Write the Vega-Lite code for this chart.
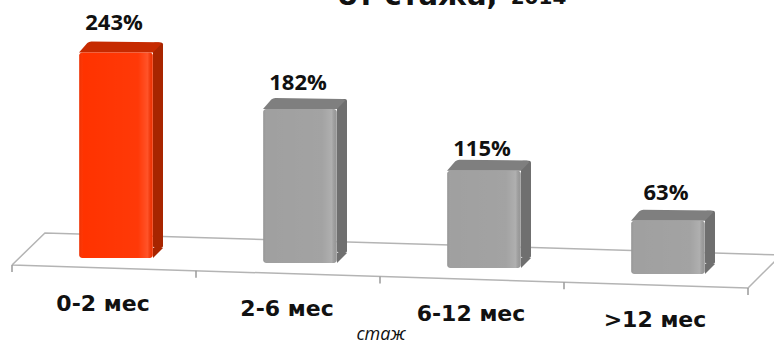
{
  "$schema": "https://vega.github.io/schema/vega-lite/v6.json",
  "width": 774,
  "height": 344,
  "padding": 0,
  "autosize": {"type": "none"},
  "background": "white",
  "view": {"stroke": null},
  "params": [
    {"name": "tilt", "expr": "{'0-2 мес': 0, '2-6 мес': 5, '6-12 мес': 10, '>12 мес': 16}"},
    {"name": "labelDrop", "expr": "{'0-2 мес': 1, '2-6 мес': 4, '6-12 мес': 8, '>12 мес': 2}"}
  ],
  "datasets": {
    "bars": [
      {"stage": "0-2 мес", "share": 2.43},
      {"stage": "2-6 мес", "share": 1.82},
      {"stage": "6-12 мес", "share": 1.15},
      {"stage": ">12 мес", "share": 0.63}
    ],
    "floor": [
      {"u": 0, "level": -0.083},
      {"u": 0.179, "level": 0.296},
      {"u": 4.18, "level": 0.036},
      {"u": 4, "level": -0.355},
      {"u": 0, "level": -0.083}
    ],
    "ticks": [
      {"u": 0, "top": -0.083, "end": -0.165},
      {"u": 1, "top": -0.151, "end": -0.233},
      {"u": 2, "top": -0.219, "end": -0.301},
      {"u": 3, "top": -0.287, "end": -0.369},
      {"u": 4, "top": -0.355, "end": -0.437}
    ]
  },
  "resolve": {"scale": {"x": "independent"}},
  "encoding": {
    "y": {
      "field": "share",
      "type": "quantitative",
      "axis": null,
      "scale": {"domain": [0, 3.05], "range": [258, 0], "nice": false, "zero": false}
    }
  },
  "layer": [
    {
      "data": {"name": "floor"},
      "mark": {"type": "line", "stroke": "#b4b4b4", "strokeWidth": 1.5, "clip": false},
      "encoding": {
        "x": {"field": "u", "type": "quantitative", "axis": null, "scale": {"domain": [0, 4], "range": [12, 748], "nice": false, "zero": false}},
        "y": {"field": "level", "type": "quantitative"},
        "order": {"value": null}
      }
    },
    {
      "data": {"name": "ticks"},
      "mark": {"type": "rule", "stroke": "#9a9a9a", "strokeWidth": 1.5},
      "encoding": {
        "x": {"field": "u", "type": "quantitative", "axis": null, "scale": {"domain": [0, 4], "range": [12, 748], "nice": false, "zero": false}},
        "y": {"field": "top", "type": "quantitative"},
        "y2": {"field": "end"}
      }
    },
    {
      "data": {"name": "bars"},
      "resolve": {"scale": {"fill": "independent", "color": "independent"}},
      "encoding": {
        "x": {
          "field": "stage",
          "type": "nominal",
          "sort": null,
          "axis": null,
          "scale": {"type": "band", "range": [24, 760], "paddingInner": 0.6, "paddingOuter": 0.3}
        }
      },
      "layer": [
        {
          "mark": {"type": "bar", "width": 10, "xOffset": 42, "cornerRadius": 2, "yOffset": {"expr": "tilt[datum.stage] - 10"}, "y2Offset": {"expr": "tilt[datum.stage] - 10"}},
          "encoding": {
            "y2": {"datum": 0},
            "fill": {"field": "stage", "type": "nominal", "legend": null, "sort": null, "scale": {"range": ["#a82500", "#6f6f6f", "#6f6f6f", "#6f6f6f"]}}
          }
        },
        {
          "mark": {"type": "point", "filled": true, "opacity": 1, "size": 6724, "shape": "M0.902,0L1.146,-0.244L0.902,-0.244Z", "yOffset": {"expr": "tilt[datum.stage]"}},
          "encoding": {
            "y": {"datum": 0},
            "fill": {"field": "stage", "type": "nominal", "legend": null, "sort": null, "scale": {"range": ["#a82500", "#6f6f6f", "#6f6f6f", "#6f6f6f"]}}
          }
        },
        {
          "mark": {"type": "point", "filled": true, "opacity": 1, "size": 6724, "shape": "M-0.902,0L-0.70,-0.23Q-0.659,-0.268 -0.6,-0.268L1.04,-0.248Q1.098,-0.244 1.098,-0.2L0.902,0Z", "yOffset": {"expr": "tilt[datum.stage]"}},
          "encoding": {
            "fill": {"field": "stage", "type": "nominal", "legend": null, "sort": null, "scale": {"range": ["#c62a00", "#7f7f7f", "#7f7f7f", "#7f7f7f"]}}
          }
        },
        {
          "mark": {"type": "bar", "cornerRadius": 3, "yOffset": {"expr": "tilt[datum.stage]"}, "y2Offset": {"expr": "tilt[datum.stage]"}},
          "encoding": {
            "y2": {"datum": 0},
            "fill": {"field": "stage", "type": "nominal", "legend": null, "sort": null, "scale": {"range": ["#ff3300", "#a0a0a0", "#a0a0a0", "#a0a0a0"]}}
          }
        },
        {
          "mark": {
            "type": "bar",
            "cornerRadius": 3,
            "yOffset": {"expr": "tilt[datum.stage]"},
            "y2Offset": {"expr": "tilt[datum.stage]"},
            "fill": {
              "gradient": "linear", "x1": 0, "x2": 1, "y1": 0, "y2": 0,
              "stops": [
                {"offset": 0, "color": "rgba(0,0,0,0.08)"},
                {"offset": 0.06, "color": "rgba(255,255,255,0)"},
                {"offset": 0.8, "color": "rgba(255,255,255,0.03)"},
                {"offset": 0.93, "color": "rgba(255,255,255,0.16)"},
                {"offset": 1, "color": "rgba(0,0,0,0.05)"}
              ]
            }
          },
          "encoding": {"y2": {"datum": 0}}
        },
        {
          "mark": {"type": "text", "font": "Open Sans", "fontWeight": "bold", "fontSize": 22, "color": "#111111", "dy": -30, "dx": -2, "yOffset": {"expr": "tilt[datum.stage] + labelDrop[datum.stage]"}},
          "encoding": {"text": {"field": "share", "type": "quantitative", "format": ".0%"}}
        },
        {
          "mark": {"type": "text", "font": "DejaVu Sans", "fontWeight": "bold", "fontSize": 22, "color": "#111111", "dy": 46, "dx": -13, "yOffset": {"expr": "tilt[datum.stage]"}},
          "encoding": {"y": {"datum": 0}, "text": {"field": "stage", "type": "nominal"}}
        }
      ]
    },
    {
      "data": {"values": [{"u": 2.005, "level": -0.91, "note": "стаж"}]},
      "mark": {"type": "text", "font": "Open Sans", "fontStyle": "italic", "fontSize": 18, "color": "#111111"},
      "encoding": {
        "x": {"field": "u", "type": "quantitative", "axis": null, "scale": {"domain": [0, 4], "range": [12, 748], "nice": false, "zero": false}},
        "y": {"field": "level", "type": "quantitative"},
        "text": {"field": "note"}
      }
    },
    {
      "data": {"values": [{"u": 1.77, "level": 2.99, "note": "от стажа,"}]},
      "mark": {"type": "text", "font": "DejaVu Sans", "fontWeight": "bold", "fontSize": 29, "color": "#111111", "align": "left", "baseline": "alphabetic"},
      "encoding": {
        "x": {"field": "u", "type": "quantitative", "axis": null, "scale": {"domain": [0, 4], "range": [12, 748], "nice": false, "zero": false}},
        "y": {"field": "level", "type": "quantitative"},
        "text": {"field": "note"}
      }
    },
    {
      "data": {"values": [{"u": 2.71, "level": 3.0, "note": "2014"}]},
      "mark": {"type": "text", "font": "DejaVu Sans", "fontWeight": "bold", "fontSize": 20, "color": "#111111", "align": "left", "baseline": "alphabetic"},
      "encoding": {
        "x": {"field": "u", "type": "quantitative", "axis": null, "scale": {"domain": [0, 4], "range": [12, 748], "nice": false, "zero": false}},
        "y": {"field": "level", "type": "quantitative"},
        "text": {"field": "note"}
      }
    }
  ]
}
